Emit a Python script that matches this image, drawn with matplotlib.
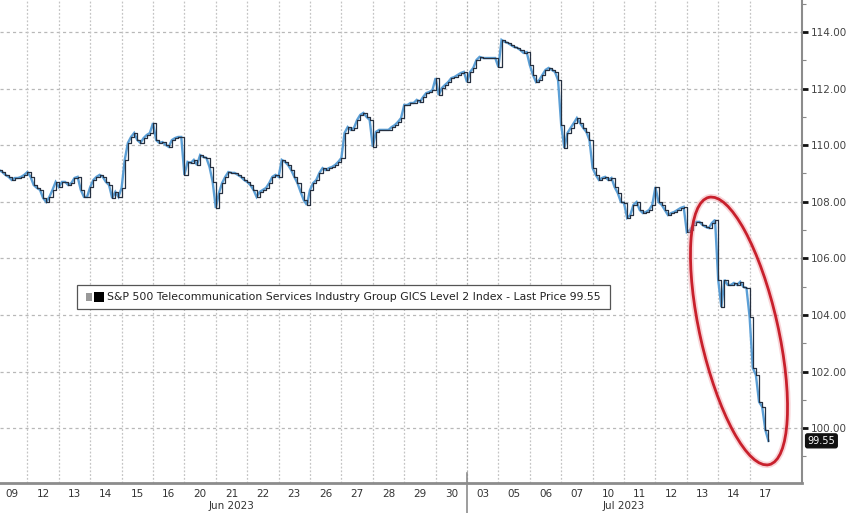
import matplotlib
matplotlib.use("Agg")
import matplotlib.pyplot as plt
from matplotlib.patches import Ellipse
import numpy as np

# ---- data ----
day_labels = ["09", "12", "13", "14", "15", "16", "20", "21", "22", "23", "26", "27", "28", "29", "30",
              "03", "05", "06", "07", "10", "11", "12", "13", "14", "17"]
month_labels = ["Jun 2023", "Jul 2023"]
month_day_counts = [15, 10]

# intraday prices (10 samples per trading day; last day partial)
day_prices = [
    [109.12, 109.12, 109.05, 108.95, 108.88, 108.77, 108.84, 108.84, 108.88, 108.95],
    [109.05, 108.88, 108.59, 108.49, 108.42, 108.13, 107.99, 108.17, 108.42, 108.70],
    [108.52, 108.70, 108.70, 108.59, 108.66, 108.84, 108.88, 108.42, 108.17, 108.17],
    [108.52, 108.77, 108.88, 108.95, 108.88, 108.70, 108.59, 108.13, 108.35, 108.17],
    [108.49, 109.48, 110.08, 110.29, 110.43, 110.18, 110.08, 110.25, 110.36, 110.43],
    [110.78, 110.18, 110.08, 110.11, 110.01, 109.94, 110.18, 110.25, 110.29, 110.29],
    [108.95, 109.41, 109.37, 109.48, 109.30, 109.65, 109.58, 109.55, 109.23, 108.70],
    [107.78, 108.31, 108.66, 108.88, 109.05, 109.02, 109.02, 108.95, 108.88, 108.77],
    [108.70, 108.59, 108.42, 108.17, 108.35, 108.42, 108.49, 108.66, 108.88, 108.95],
    [108.88, 109.48, 109.41, 109.30, 109.12, 108.88, 108.66, 108.35, 108.06, 107.89],
    [108.42, 108.66, 108.77, 109.02, 109.19, 109.12, 109.19, 109.23, 109.30, 109.41],
    [109.55, 110.43, 110.64, 110.54, 110.61, 110.89, 111.07, 111.14, 111.00, 110.89],
    [109.94, 110.47, 110.54, 110.54, 110.54, 110.54, 110.64, 110.71, 110.82, 110.96],
    [111.42, 111.42, 111.49, 111.49, 111.60, 111.53, 111.70, 111.84, 111.88, 111.95],
    [112.37, 111.77, 112.02, 112.13, 112.23, 112.37, 112.41, 112.48, 112.55, 112.59],
    [112.23, 112.59, 112.73, 113.01, 113.12, 113.08, 113.08, 113.08, 113.08, 113.08],
    [112.76, 113.72, 113.65, 113.61, 113.54, 113.47, 113.44, 113.36, 113.26, 113.29],
    [112.83, 112.48, 112.23, 112.30, 112.48, 112.66, 112.73, 112.66, 112.59, 112.30],
    [110.71, 109.90, 110.43, 110.61, 110.78, 110.96, 110.78, 110.61, 110.47, 110.18],
    [109.19, 108.95, 108.77, 108.84, 108.88, 108.77, 108.84, 108.52, 108.31, 107.99],
    [107.96, 107.43, 107.53, 107.89, 107.99, 107.71, 107.60, 107.64, 107.71, 107.89],
    [108.52, 107.99, 107.89, 107.71, 107.53, 107.60, 107.64, 107.71, 107.78, 107.82],
    [106.93, 107.00, 107.18, 107.29, 107.29, 107.18, 107.11, 107.07, 107.25, 107.36],
    [105.24, 104.28, 105.24, 105.06, 105.06, 105.13, 105.06, 105.17, 104.99, 104.95],
    [103.93, 102.13, 101.88, 100.93, 100.75, 99.94, 99.55],
]
samples_per_day = 10
last_price = 99.55
legend_text = "S&P 500 Telecommunication Services Industry Group GICS Level 2 Index - Last Price 99.55"
y_ticks = [100, 102, 104, 106, 108, 110, 112, 114]

# ---- build series ----
xs, ys = [], []
for k, vals in enumerate(day_prices):
    for j, v in enumerate(vals):
        xs.append(k + j / samples_per_day)
        ys.append(v)
xs = np.array(xs); ys = np.array(ys)

W, H = 848, 513
fig = plt.figure(figsize=(W / 100, H / 100), dpi=100)
ax = fig.add_axes([0, 30 / H, 802 / W, 1 - 30 / H])
ax.set_xlim(4 / 31.4, 806 / 31.4)
ax.set_ylim(98.06, 115.13)

# grid
for yt in y_ticks:
    ax.axhline(yt, color="#b8b8b8", lw=0.9, ls=(0, (2.5, 2.5)), zorder=1)
for k in range(1, len(day_labels)):
    if k == month_day_counts[0]:
        continue
    ax.axvline(k, color="#c4c4c4", lw=0.9, ls=(0, (1.5, 1.5)), zorder=1)
ax.axvline(month_day_counts[0], color="#b0b0b0", lw=0.9, ls=(0, (1.5, 1.5)), zorder=1)

# series
ax.plot(xs, ys, color="#5b9fd6", lw=1.7, zorder=3, solid_joinstyle="miter")
ax.plot(xs, ys, color="#263040", lw=0.9, drawstyle="steps-post", zorder=4)

# spines
for s in ["top", "left"]:
    ax.spines[s].set_visible(False)
ax.spines["bottom"].set_color("#8c8c8c")
ax.spines["bottom"].set_linewidth(2.0)
ax.spines["right"].set_color("#8c8c8c")
ax.spines["right"].set_linewidth(1.5)

# y axis on right
ax.yaxis.tick_right()
ax.set_yticks(y_ticks)
ax.set_yticklabels([f"{v:.2f}" for v in y_ticks], fontsize=7.5, color="#444444", family="DejaVu Sans")
ax.set_yticks([v + 1 for v in y_ticks[:-1]] + [99, 115], minor=True)
ax.tick_params(axis="y", which="major", direction="out", length=4, width=2, color="#111111", pad=2)
ax.tick_params(axis="y", which="minor", direction="out", length=3, width=0.8, color="#888888")

# x tick labels (day numbers centred in each day)
ax.set_xticks([k + 0.5 for k in range(len(day_labels))])
ax.set_xticklabels(day_labels, fontsize=7.5, color="#333333", family="DejaVu Sans")
ax.tick_params(axis="x", length=0, pad=4)

# month labels
start = 0
axh_px = H - 30
for lab, n in zip(month_labels, month_day_counts):
    ax.text(start + n / 2, -23 / axh_px, lab, transform=ax.get_xaxis_transform(), ha="center",
            va="center", fontsize=7.5, color="#333333", family="DejaVu Sans")
    start += n

# solid month separator below axis
fig.add_artist(plt.Line2D([467 / W, 467 / W], [0, 40 / H], color="#8c8c8c", lw=1.2))

# last price tag
ax.annotate(f"{last_price:.2f}", xy=(1.0, last_price), xycoords=("axes fraction", "data"),
            xytext=(4, 0), textcoords="offset points", ha="left", va="center",
            fontsize=7, color="white", family="DejaVu Sans",
            bbox=dict(boxstyle="round,pad=0.2", fc="#111111", ec="#111111"),
            annotation_clip=False)

# legend box
ly = 1 - 297 / H
fig.add_artist(plt.Rectangle((77 / W, 1 - 309 / H), (610 - 77) / W, 24 / H, transform=fig.transFigure,
                             fc="white", ec="#555555", lw=0.9, zorder=9))
fig.text(107 / W, ly, legend_text, fontsize=7.85, color="#222222", va="center", ha="left",
         family="DejaVu Sans", zorder=11)
fig.add_artist(plt.Rectangle((86 / W, ly - 4 / H), 6 / W, 8 / H, transform=fig.transFigure,
                             fc="#999999", ec="none", zorder=10))
fig.add_artist(plt.Rectangle((94 / W, ly - 5 / H), 10 / W, 10 / H, transform=fig.transFigure,
                             fc="#000000", ec="none", zorder=10))

# red ellipse highlight (in pixel space)
for lw_, col, al in [(4.5, "#f0a0a8", 0.45), (2.0, "#c8202c", 1.0)]:
    e = Ellipse((739 / 100, (H - 331) / 100), 0.78, 2.74, angle=12.7,
                transform=fig.dpi_scale_trans, fill=False, ec=col, lw=lw_, alpha=al, zorder=20)
    fig.add_artist(e)

fig.savefig("out.png", dpi=100)
